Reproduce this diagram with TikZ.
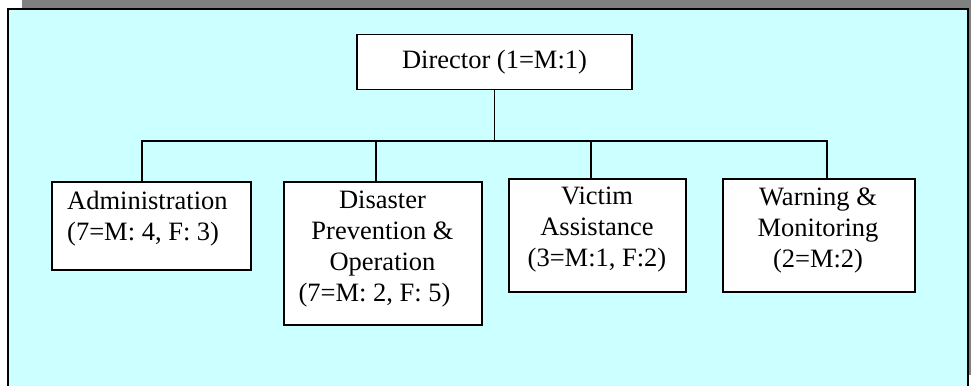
\documentclass[tikz,border=0pt]{standalone}
\usepackage{fontspec}
\setmainfont{Liberation Serif}
\begin{document}
\begin{tikzpicture}[x=1pt,y=-1pt,
  panel/.style={fill=panelcyan,draw=black,line width=2.4pt},
  unit/.style={draw=black,fill=white,line width=1.5pt,inner sep=0pt,anchor=north west},
  caption/.style={inner sep=0pt,font=\fontsize{26.5}{31}\selectfont},
  link/.style={draw=black,line width=1.5pt}]
\definecolor{panelcyan}{RGB}{204,255,255}
\definecolor{shadowgray}{RGB}{128,128,128}
\useasboundingbox (0,0) rectangle (973,385);
% backdrop: drop shadow and cyan panel
\fill[shadowgray] (22,-4) rectangle (971,375);
\draw[panel] (8,9) rectangle (968,395);
% unit boxes
\node[unit,minimum width=275pt,minimum height=55pt] (dir) at (356,34) {};
\node[unit,minimum width=199pt,minimum height=88pt] (adm) at (51,181) {};
\node[unit,minimum width=198pt,minimum height=143pt] (dis) at (283,181) {};
\node[unit,minimum width=177pt,minimum height=113pt] (vic) at (508,178) {};
\node[unit,minimum width=192pt,minimum height=113pt] (wrn) at (722,178) {};
% box texts
\node[caption,anchor=base] (dirt) at (494.5,69) {Director (1=M:1)};
\node[caption,anchor=north west,align=left] (admt) at (67,190.5) {Administration\\(7=M: 4, F: 3)};
\node[caption,anchor=north,align=center] (dist) at (382.5,190.5) {Disaster\\Prevention \&\\Operation\\(7=M: 2, F: 5)\hspace*{16pt}};
\node[caption,anchor=north,align=center] (vict) at (597,186.5) {Victim\\Assistance\\(3=M:1, F:2)};
\node[caption,anchor=north,align=center] (wrnt) at (818,187.5) {Warning \&\\Monitoring\\(2=M:2)};
% reporting lines: one horizontal bus fed by the director
\coordinate (busline) at (0,141);
\coordinate (bus) at (dir.south |- busline);
\draw[link] (dir.south) -- (bus);
\draw[link] ([xshift=-9.5pt]adm.north) |- (bus) -| ([xshift=8pt]wrn.north);
\draw[link] ([xshift=-7pt]dis.north) -- ([xshift=-7pt]dis.north |- bus);
\draw[link] ([xshift=-6.5pt]vic.north) -- ([xshift=-6.5pt]vic.north |- bus);
\end{tikzpicture}
\end{document}
